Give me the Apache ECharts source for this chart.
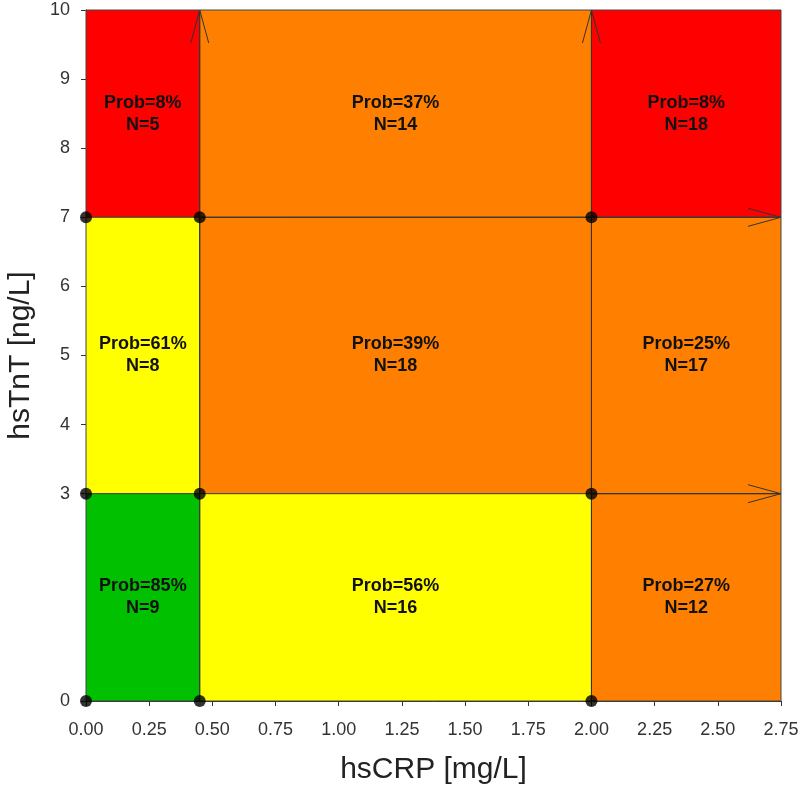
<!DOCTYPE html>
<html>
<head>
<meta charset="utf-8">
<script src="https://cdn.jsdelivr.net/npm/echarts@6/dist/echarts.min.js"></script>
<style>html,body{margin:0;padding:0;background:#fff;}#c{width:800px;height:791px;}</style>
</head>
<body>
<div id="c"></div>
<script>
// Cells (row-major: top row, middle row, bottom row)
const cellXMin = [0, 0.45, 2.0, 0, 0.45, 2.0, 0, 0.45, 2.0];
const cellXMax = [0.45, 2.0, 2.75, 0.45, 2.0, 2.75, 0.45, 2.0, 2.75];
const cellYMin = [7, 7, 7, 3, 3, 3, 0, 0, 0];
const cellYMax = [10, 10, 10, 7, 7, 7, 3, 3, 3];
const cellProb = [8, 37, 8, 61, 39, 25, 85, 56, 27];
const cellN = [5, 14, 18, 8, 18, 17, 9, 16, 12];
const cellRisk = ['red', 'orange', 'red', 'yellow', 'orange', 'orange', 'green', 'yellow', 'orange'];
const riskColors = { red: '#FF0000', orange: '#FF8000', yellow: '#FFFF00', green: '#00C000' };

// Split nodes
const dotX = [0, 0.45, 2.0, 0, 0.45, 2.0, 0, 0.45, 2.0];
const dotY = [0, 0, 0, 3, 3, 3, 7, 7, 7];

// Arrows (decision paths)
const arrowX0 = [0.45, 2.0, 0.45, 2.0];
const arrowY0 = [0, 0, 7, 3];
const arrowX1 = [0.45, 2.0, 2.75, 2.75];
const arrowY1 = [10, 10, 7, 3];

// Axis ticks
const xTicks = [0, 0.25, 0.5, 0.75, 1, 1.25, 1.5, 1.75, 2, 2.25, 2.5, 2.75];
const yTicks = [0, 3, 4, 5, 6, 7, 8, 9, 10];

const cellData = cellXMin.map((v, i) => [v, cellXMax[i], cellYMin[i], cellYMax[i], i]);
const dotData = dotX.map((v, i) => [v, dotY[i]]);
const arrowData = arrowX0.map((v, i) => [v, arrowY0[i], arrowX1[i], arrowY1[i]]);

const chart = echarts.init(document.getElementById('c'));
const font = 'Arial, "Liberation Sans", sans-serif';

chart.setOption({
  animation: false,
  grid: { left: 86, right: 19, top: 10, bottom: 90, containLabel: false, outerBoundsMode: 'none' },
  xAxis: {
    type: 'value', min: 0, max: 2.75, interval: 0.25,
    name: 'hsCRP [mg/L]', nameLocation: 'middle', nameGap: 54,
    nameTextStyle: { fontFamily: font, fontSize: 30, color: '#222' },
    axisLine: { show: true, lineStyle: { color: '#333', width: 1 } },
    axisTick: { show: true, length: 5, lineStyle: { color: '#333' }, customValues: xTicks },
    axisLabel: { fontFamily: font, fontSize: 18, color: '#333', margin: 20, customValues: xTicks,
      formatter: v => v.toFixed(2) },
    splitLine: { show: false }
  },
  yAxis: {
    type: 'value', min: 0, max: 10, interval: 1,
    name: 'hsTnT [ng/L]', nameLocation: 'middle', nameGap: 50, nameRotate: 90,
    nameTextStyle: { fontFamily: font, fontSize: 30, color: '#222' },
    axisLine: { show: true, lineStyle: { color: '#333', width: 1 } },
    axisTick: { show: true, length: 5, lineStyle: { color: '#333' }, customValues: yTicks },
    axisLabel: { fontFamily: font, fontSize: 18, color: '#333', margin: 16, customValues: yTicks },
    splitLine: { show: false }
  },
  series: [
    {
      type: 'custom', z: 1,
      data: cellData,
      renderItem: function (params, api) {
        const i = api.value(4);
        const p0 = api.coord([api.value(0), api.value(3)]);
        const p1 = api.coord([api.value(1), api.value(2)]);
        const cx = (p0[0] + p1[0]) / 2, cy = (p0[1] + p1[1]) / 2;
        return {
          type: 'group',
          children: [
            { type: 'rect', shape: { x: p0[0], y: p0[1], width: p1[0] - p0[0], height: p1[1] - p0[1] },
              style: { fill: riskColors[cellRisk[i]], stroke: '#444', lineWidth: 1 } },
            { type: 'text', x: cx, y: cy,
              style: { text: 'Prob=' + cellProb[i] + '%\nN=' + cellN[i], align: 'center', verticalAlign: 'middle',
                font: 'bold 18px ' + font, fill: '#111', lineHeight: 22 } }
          ]
        };
      }
    },
    {
      type: 'custom', z: 2,
      data: arrowData,
      renderItem: function (params, api) {
        const a = api.coord([api.value(0), api.value(1)]);
        const b = api.coord([api.value(2), api.value(3)]);
        const dx = b[0] - a[0], dy = b[1] - a[1];
        const len = Math.sqrt(dx * dx + dy * dy);
        const ux = dx / len, uy = dy / len;
        const hl = 33, hw = 9;
        const bx = b[0] - ux * hl, by = b[1] - uy * hl;
        const l = [bx - uy * hw, by + ux * hw];
        const r = [bx + uy * hw, by - ux * hw];
        const st = { stroke: '#333', lineWidth: 1, fill: 'none' };
        return {
          type: 'group',
          children: [
            { type: 'line', shape: { x1: a[0], y1: a[1], x2: b[0], y2: b[1] }, style: st },
            { type: 'polyline', shape: { points: [l, b, r] }, style: st }
          ]
        };
      }
    },
    {
      type: 'scatter', z: 3,
      data: dotData,
      symbol: 'circle', symbolSize: 12,
      itemStyle: { color: '#000' },
      clip: false
    }
  ]
});
</script>
</body>
</html>
